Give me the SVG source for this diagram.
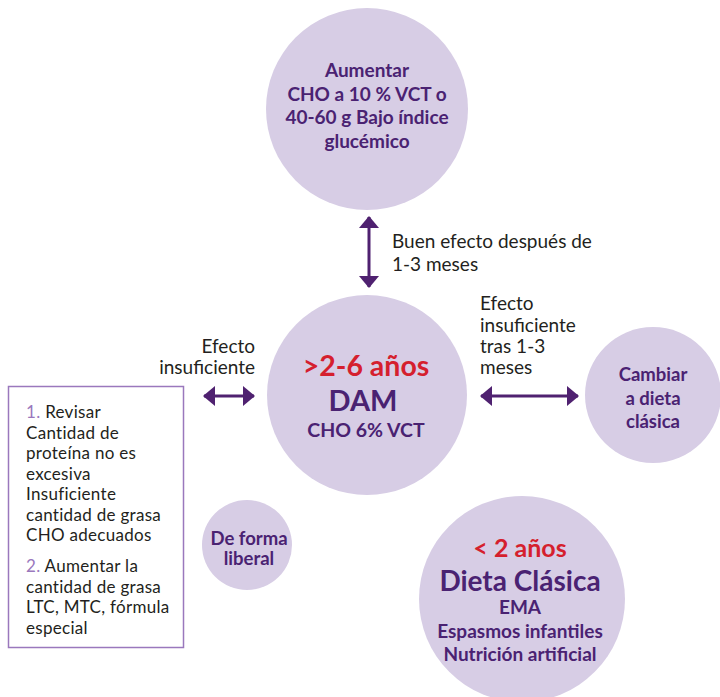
<svg xmlns="http://www.w3.org/2000/svg" width="720" height="697" viewBox="0 0 720 697">
<style>
.c{fill:#d7cde5}
.t{font-family:Lato,"Open Sans","Liberation Sans",sans-serif;font-weight:700;fill:#4a2272;text-anchor:middle}
.r{fill:#d51f2e}
.l{font-family:Lato,"Open Sans","Liberation Sans",sans-serif;font-size:19px;fill:#231f20}
.b{font-family:Lato,"Open Sans","Liberation Sans",sans-serif;font-size:17px;letter-spacing:0.3px;fill:#231f20}
.n{fill:#9a78bd}
.a{stroke:#4f2170;stroke-width:3;fill:none;marker-start:url(#ah);marker-end:url(#ah)}
</style>
<defs>
<marker id="ah" viewBox="0 0 12 20" refX="11" refY="10" markerWidth="12" markerHeight="20" markerUnits="userSpaceOnUse" orient="auto-start-reverse">
<path d="M0,0 L12,10 L0,20 Z" fill="#4f2170"/>
</marker>
</defs>
<rect width="720" height="697" fill="#fff"/>
<g id="connectors">
<line class="a" x1="369" y1="217" x2="369" y2="287"/>
<line class="a" x1="204" y1="396" x2="254" y2="396"/>
<line class="a" x1="481" y1="396" x2="578" y2="396"/>
</g>
<g id="label-top">
<text class="l" x="392" y="248">Buen efecto después de</text>
<text class="l" x="392" y="271">1-3 meses</text>
</g>
<g id="label-left">
<text class="l" x="255" y="353" text-anchor="end">Efecto</text>
<text class="l" x="255" y="374" text-anchor="end">insuficiente</text>
</g>
<g id="label-right">
<text class="l" x="480" y="310">Efecto</text>
<text class="l" x="480" y="332">insuficiente</text>
<text class="l" x="480" y="353">tras 1-3</text>
<text class="l" x="480" y="374">meses</text>
</g>
<g id="node-aumentar">
<circle class="c" cx="367" cy="109" r="101"/>
<text class="t" x="367" y="77" font-size="19">Aumentar</text>
<text class="t" x="367" y="101" font-size="19">CHO a  10 % VCT o</text>
<text class="t" x="367" y="124" font-size="19">40-60 g Bajo índice</text>
<text class="t" x="367" y="148" font-size="19">glucémico</text>
</g>
<g id="node-dam">
<circle class="c" cx="367" cy="395" r="100"/>
<text class="t r" x="366" y="376" font-size="28.5">&gt;2-6 años</text>
<text class="t" x="363" y="411" font-size="29">DAM</text>
<text class="t" x="366" y="437" font-size="19.5">CHO 6% VCT</text>
</g>
<g id="node-cambiar">
<circle class="c" cx="653" cy="395" r="68"/>
<text class="t" x="653" y="381" font-size="18.5">Cambiar</text>
<text class="t" x="653" y="405" font-size="18.5">a dieta</text>
<text class="t" x="653" y="428" font-size="18.5">clásica</text>
</g>
<g id="node-liberal">
<circle class="c" cx="247" cy="545" r="45"/>
<text class="t" x="249" y="545" font-size="18.5">De forma</text>
<text class="t" x="249" y="565" font-size="18.5">liberal</text>
</g>
<g id="node-clasica">
<circle class="c" cx="522" cy="599" r="103"/>
<text class="t r" x="520" y="557" font-size="25">&lt; 2 años</text>
<text class="t" x="520" y="591" font-size="28">Dieta Clásica</text>
<text class="t" x="520" y="614" font-size="19">EMA</text>
<text class="t" x="520" y="638" font-size="19">Espasmos infantiles</text>
<text class="t" x="520" y="661" font-size="19">Nutrición artificial</text>
</g>
<g id="node-box">
<rect x="8.5" y="386.5" width="175" height="261" fill="#fff" stroke="#9a78bd" stroke-width="1.5"/>
<text class="b" x="26" y="418"><tspan class="n">1.</tspan> Revisar</text>
<text class="b" x="26" y="439">Cantidad de</text>
<text class="b" x="26" y="459">proteína no es</text>
<text class="b" x="26" y="480">excesiva</text>
<text class="b" x="26" y="500">Insuficiente</text>
<text class="b" x="26" y="521">cantidad de grasa</text>
<text class="b" x="26" y="541">CHO adecuados</text>
<text class="b" x="26" y="572"><tspan class="n">2.</tspan> Aumentar la</text>
<text class="b" x="26" y="593">cantidad de grasa</text>
<text class="b" x="26" y="613">LTC, MTC, fórmula</text>
<text class="b" x="26" y="634">especial</text>
</g>
</svg>
